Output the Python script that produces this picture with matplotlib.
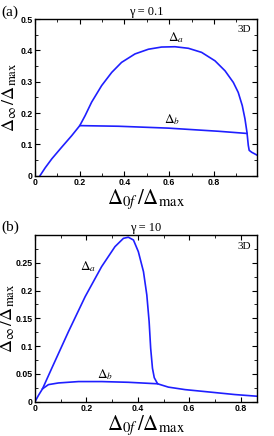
import numpy as np
import matplotlib.pyplot as plt
from matplotlib.ticker import MultipleLocator

plt.rcParams['mathtext.fontset'] = 'stix'

# panel (a), gamma = 0.1
xa_a = [0.022, 0.045, 0.075, 0.119, 0.164, 0.2, 0.224, 0.253, 0.298, 0.343, 0.387, 0.447,
        0.507, 0.566, 0.626, 0.686, 0.745, 0.805, 0.85, 0.887, 0.909, 0.927, 0.939, 0.948,
        0.954, 0.958, 0.969, 0.995]
ya_a = [0.0, 0.025, 0.054, 0.091, 0.128, 0.16, 0.192, 0.235, 0.288, 0.33, 0.362, 0.389,
        0.404, 0.411, 0.412, 0.407, 0.394, 0.367, 0.335, 0.298, 0.266, 0.224, 0.182, 0.139,
        0.097, 0.081, 0.075, 0.065]
xb_a = [0.2, 0.373, 0.596, 0.82, 0.948]
yb_a = [0.16, 0.158, 0.152, 0.142, 0.135]

# panel (b), gamma = 10
xa_b = [0.0, 0.013, 0.029, 0.065, 0.13, 0.195, 0.259, 0.311, 0.344, 0.363, 0.383, 0.402,
        0.422, 0.435, 0.444, 0.45, 0.457, 0.464, 0.477, 0.519, 0.584, 0.674, 0.778, 0.864]
ya_b = [0.0, 0.011, 0.023, 0.06, 0.126, 0.189, 0.243, 0.279, 0.294, 0.296, 0.291, 0.27,
        0.234, 0.192, 0.144, 0.096, 0.06, 0.043, 0.032, 0.026, 0.0215, 0.0174, 0.0126, 0.0096]
xb_b = [0.029, 0.052, 0.091, 0.169, 0.259, 0.363, 0.477]
yb_b = [0.023, 0.0305, 0.0335, 0.036, 0.036, 0.0347, 0.032]

xticks = [0, 0.2, 0.4, 0.6, 0.8]
xticklabels = ['0', '0.2', '0.4', '0.6', '0.8']
yticks_a = [0, 0.1, 0.2, 0.3, 0.4, 0.5]
yticklabels_a = ['0', '0.1', '0.2', '0.3', '0.4', '0.5']
yticks_b = [0, 0.05, 0.1, 0.15, 0.2, 0.25]
yticklabels_b = ['0', '0.05', '0.1', '0.15', '0.2', '0.25']

blue = '#1f1fff'
fig = plt.figure(figsize=(2.74, 4.36), dpi=100)
ax1 = fig.add_axes([0.128, 0.597, 0.810, 0.359])
ax2 = fig.add_axes([0.128, 0.079, 0.810, 0.382])

def style(ax, xlim, ylim, xt, xtl, yt, ytl, ymin, labx):
    ax.set_xlim(*xlim)
    ax.set_ylim(*ylim)
    ax.set_xticks(xt)
    ax.set_xticklabels(xtl)
    ax.set_yticks(yt)
    ax.set_yticklabels(ytl)
    ax.xaxis.set_minor_locator(MultipleLocator(0.1))
    ax.yaxis.set_minor_locator(MultipleLocator(ymin))
    ax.tick_params(which='both', direction='in', top=True, right=True, labelsize=6.3, pad=1.5)
    ax.tick_params(which='major', length=3.5, width=0.8)
    ax.tick_params(which='minor', length=2, width=0.6)
    for lab in ax.get_xticklabels() + ax.get_yticklabels():
        lab.set_fontweight('bold')
        lab.set_family('Liberation Sans')
    for s in ax.spines.values():
        s.set_linewidth(1.0)
    ax.set_xlabel(r'$\Delta_{0f}\,/\Delta_{\rm max}$', fontsize=15, labelpad=0)
    ax.set_ylabel(r'$\Delta_{\infty}\,/\Delta_{\rm max}$', fontsize=13)
    ax.yaxis.set_label_coords(labx, 0.5)
    ax.text(0.975, 0.96, '3D', transform=ax.transAxes, ha='right', va='top',
            fontsize=8, family='Liberation Serif')

ax1.plot(xa_a, ya_a, color=blue, lw=1.2)
ax1.plot(xb_a, yb_a, color=blue, lw=1.2)
style(ax1, (0, 0.993), (0, 0.5), xticks, xticklabels, yticks_a, yticklabels_a, 0.05, -0.072)
ax1.text(0.633, 0.44, r'$\Delta_a$', fontsize=9.5, ha='center', va='center')
ax1.text(0.611, 0.18, r'$\Delta_b$', fontsize=9.5, ha='center', va='center')
ax1.set_title('γ = 0.1', fontsize=9, pad=3, family='Liberation Serif')
fig.text(0.005, 0.963, '(a)', fontsize=11, family='Liberation Serif')

ax2.plot(xa_b, ya_b, color=blue, lw=1.2)
ax2.plot(xb_b, yb_b, color=blue, lw=1.2)
style(ax2, (0, 0.864), (0, 0.3), xticks, xticklabels, yticks_b, yticklabels_b, 0.025, -0.08)
ax2.text(0.207, 0.243, r'$\Delta_a$', fontsize=9.5, ha='center', va='center')
ax2.text(0.272, 0.049, r'$\Delta_b$', fontsize=9.5, ha='center', va='center')
ax2.set_title('γ = 10', fontsize=9, pad=3, family='Liberation Serif')
fig.text(0.005, 0.47, '(b)', fontsize=11, family='Liberation Serif')

fig.savefig('out.png', dpi=100)
